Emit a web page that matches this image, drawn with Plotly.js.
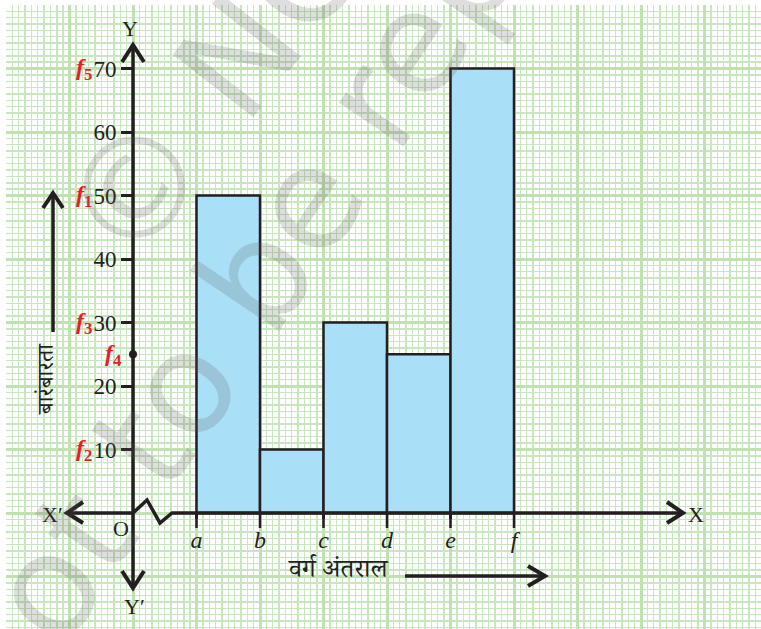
<!DOCTYPE html>
<html>
<head>
<meta charset="utf-8">
<script src="https://cdn.plot.ly/plotly-3.0.1.min.js"></script>
<style>html,body{margin:0;padding:0;background:#fff;}#chart{width:761px;height:629px;}</style>
</head>
<body>
<div id="chart"></div>
<script>
// ---- data ----
const boundaries = ['a', 'b', 'c', 'd', 'e', 'f'];
const frequencies = [50, 10, 30, 25, 70];
const freqNames = ['1', '2', '3', '4', '5'];
const yTickVals = [10, 20, 30, 40, 50, 60, 70];
const xTitle = 'वर्ग अंतराल';
const yTitle = 'बारंबारता';

// ---- pixel helpers for decorations ----
const L = 6, T = 5, W = 761, H = 629;
const UX = 63.5, UY = 6.35;
const X = p => -2 + (p - L) / UX;
const Y = p => 80 - (p - T) / UY;
const xr = [-2, -2 + (W - L) / UX];
const yr = [80 - (H - T) / UY, 80];

const ink = '#231f20';
const red = '#ed1c24';

const boundaryPos = boundaries.map((_, i) => i + 1);
const barX = frequencies.map((_, i) => boundaryPos[i] + 0.5);

const traces = [
  {
    type: 'bar', x: barX, y: frequencies, width: 1,
    marker: {color: '#aadff8', line: {color: ink, width: 2.5}},
    xaxis: 'x', yaxis: 'y', hoverinfo: 'skip', showlegend: false
  },
  {
    type: 'scatter', mode: 'markers', x: [0], y: [frequencies[3]],
    marker: {color: ink, size: 8},
    xaxis: 'x2', yaxis: 'y2', hoverinfo: 'skip', showlegend: false, cliponaxis: false
  }
];

function line(pts, w) {
  let d = 'M ' + pts.map(p => X(p[0]) + ' ' + Y(p[1])).join(' L ');
  return {type: 'path', xref: 'x', yref: 'y', path: d, line: {color: ink, width: w}, layer: 'above'};
}

const shapes = [
  // Y axis
  line([[133, 47], [133, 587]], 3.5),
  line([[122, 62], [133, 45], [144, 62]], 4),
  line([[122, 571], [133, 588], [144, 571]], 4),
  // X axis with break
  line([[69, 513], [133, 513], [147, 500], [160, 523], [172, 513], [681, 513]], 3.5),
  line([[83, 502], [67, 513], [83, 523]], 4),
  line([[667, 502], [683, 513], [667, 523]], 4),
  // y-title arrow
  line([[53, 332], [53, 195]], 3.5),
  line([[43, 208], [53, 193], [63, 208]], 4),
  // x-title arrow
  line([[405, 576], [543, 576]], 3.5),
  line([[528, 566], [545, 576], [528, 586]], 4)
];
// class boundary ticks below the x axis
boundaryPos.forEach(b => {
  shapes.push({type: 'line', xref: 'x', yref: 'y', x0: b, x1: b, y0: 0, y1: Y(528),
    line: {color: ink, width: 2.5}, layer: 'above'});
});

const serif = 'Liberation Serif, Times New Roman, serif';
const deva = 'Noto Serif Devanagari, Noto Sans Devanagari, Noto Sans, sans-serif';
function txt(text, px, py, size, opts) {
  return Object.assign({
    text: text, x: X(px), y: Y(py), xref: 'x', yref: 'y', showarrow: false,
    font: {family: serif, size: size, color: ink}
  }, opts || {});
}

const annotations = [
  txt('Y', 130, 28, 22),
  txt('Y′', 134, 606, 22),
  txt('X′', 52, 514, 22),
  txt('X', 696, 514, 22),
  txt('O', 121, 528, 22),
  txt(yTitle, 49, 379, 23, {textangle: -90, font: {family: deva, size: 23, color: ink}}),
  txt(xTitle, 338, 573, 26, {font: {family: deva, size: 26, color: ink}})
];

// red frequency labels
frequencies.forEach((v, i) => {
  const onTick = yTickVals.indexOf(v) >= 0;
  annotations.push({
    text: '<b><i>f</i></b><sub><b>' + freqNames[i] + '</b></sub>',
    x: onTick ? X(94) : X(124), y: onTick ? v : v - 0.1,
    xref: 'x', yref: 'y', xanchor: 'right', yanchor: 'middle', showarrow: false,
    font: {family: serif, size: 24, color: red}
  });
});

// watermark
const wm = 'rgba(90,90,90,0.2)';
annotations.push({
  text: 'not to be republished', xref: 'paper', yref: 'paper',
  x: (396 - L) / (W - L), y: (H - 70) / (H - T), xanchor: 'center', yanchor: 'middle',
  textangle: -56, showarrow: false,
  font: {family: 'DejaVu Sans, sans-serif', size: 142, color: wm}
});
annotations.push({
  text: '© NCERT', xref: 'paper', yref: 'paper',
  x: (292 - L) / (W - L), y: (H + 12) / (H - T), xanchor: 'center', yanchor: 'middle',
  textangle: -52, showarrow: false,
  font: {family: 'DejaVu Sans, sans-serif', size: 140, color: wm}
});

const gridMaj = '#c0e1b0', gridMin = '#c9e7bf';
const layout = {
  width: W, height: H,
  margin: {l: L, t: T, r: 0, b: 0, pad: 0},
  paper_bgcolor: '#ffffff', plot_bgcolor: '#ffffff',
  showlegend: false,
  bargap: 0,
  xaxis: {
    range: xr, dtick: 1, tick0: 0, showgrid: true, gridcolor: gridMaj, gridwidth: 3,
    minor: {dtick: 0.1, tick0: 0, showgrid: true, gridcolor: gridMin, gridwidth: 1.4},
    showticklabels: false, ticks: '', zeroline: false, showline: false, fixedrange: true
  },
  yaxis: {
    range: yr, dtick: 10, tick0: 0, showgrid: true, gridcolor: gridMaj, gridwidth: 3,
    minor: {dtick: 1, tick0: 0, showgrid: true, gridcolor: gridMin, gridwidth: 1.4},
    showticklabels: false, ticks: '', zeroline: false, showline: false, fixedrange: true
  },
  xaxis2: {
    overlaying: 'x', anchor: 'free', position: (H - 513) / (H - T), side: 'bottom',
    range: xr, tickmode: 'array', tickvals: boundaryPos,
    ticktext: boundaries.map(b => '<i>' + b + '</i>'),
    ticks: 'outside', ticklen: 5, tickwidth: 2.5, tickcolor: ink,
    tickfont: {family: serif, size: 24, color: ink},
    showgrid: false, zeroline: false, showline: false, fixedrange: true
  },
  yaxis2: {
    overlaying: 'y', anchor: 'free', position: (133 - L) / (W - L), side: 'left',
    range: yr, tickmode: 'array', tickvals: yTickVals,
    ticks: 'outside', ticklen: 12, tickwidth: 3, tickcolor: ink,
    tickfont: {family: serif, size: 23, color: ink},
    showgrid: false, zeroline: false, showline: false, fixedrange: true
  },
  shapes: shapes,
  annotations: annotations
};

Plotly.newPlot('chart', traces, layout, {displayModeBar: false, staticPlot: true});
</script>
</body>
</html>
